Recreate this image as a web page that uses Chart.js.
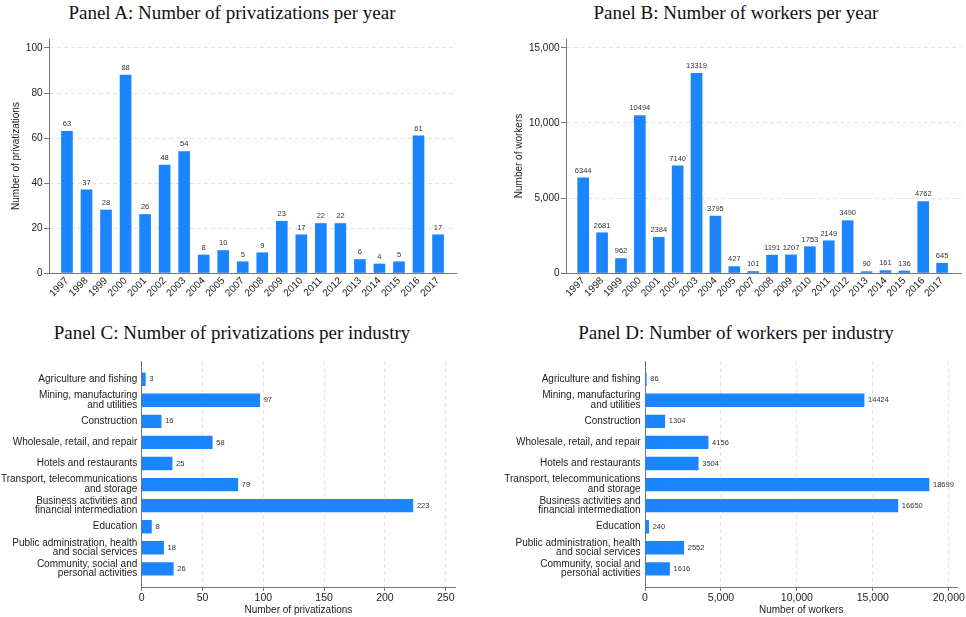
<!DOCTYPE html>
<html>
<head>
<meta charset="utf-8">
<script src="https://cdn.jsdelivr.net/npm/chart.js@4/dist/chart.umd.min.js"></script>
<style>
  html, body { margin: 0; padding: 0; background: #fff; }
  #wrap { position: relative; width: 966px; height: 617px; overflow: hidden; }
  canvas { position: absolute; }
  .ptitle {
    position: absolute; white-space: nowrap; transform: translateX(-50%);
    font-family: "Liberation Serif", "Times New Roman", serif; font-size: 19px;
    line-height: 19px; color: #111;
  }
</style>
</head>
<body>
<div id="wrap">
  <div class="ptitle" style="left:232px;top:3px">Panel A: Number of privatizations per year</div>
  <div class="ptitle" style="left:736px;top:3px">Panel B: Number of workers per year</div>
  <div class="ptitle" style="left:232px;top:323px">Panel C: Number of privatizations per industry</div>
  <div class="ptitle" style="left:736px;top:323px">Panel D: Number of workers per industry</div>
  <canvas id="cA" width="483" height="290" style="left:0;top:28px"></canvas>
  <canvas id="cB" width="483" height="290" style="left:483px;top:28px"></canvas>
  <canvas id="cC" width="483" height="270" style="left:0;top:347px"></canvas>
  <canvas id="cD" width="483" height="270" style="left:483px;top:347px"></canvas>
</div>
<script>
// privatization data, 1997-2017 (no sales in 2006)
const years = ['1997','1998','1999','2000','2001','2002','2003','2004','2005','2007',
               '2008','2009','2010','2011','2012','2013','2014','2015','2016','2017'];
const privPerYear = [63,37,28,88,26,48,54,8,10,5,9,23,17,22,22,6,4,5,61,17];
const workersPerYear = [6344,2681,962,10494,2384,7140,13319,3795,427,101,
                        1191,1207,1753,2149,3490,90,161,136,4762,645];

const industries = [
  'Agriculture and fishing',
  ['Mining, manufacturing', 'and utilities'],
  'Construction',
  'Wholesale, retail, and repair',
  'Hotels and restaurants',
  ['Transport, telecommunications', 'and storage'],
  ['Business activities and', 'financial intermediation'],
  'Education',
  ['Public administration, health', 'and social services'],
  ['Community, social and', 'personal activities']
];
const privPerIndustry = [3,97,16,58,25,79,223,8,18,26];
const workersPerIndustry = [86,14424,1304,4156,3504,18699,16650,240,2552,1616];

const privTicks = [0,20,40,60,80,100];
const workerTicks = [0,5000,10000,15000];
const privIndTicks = [0,50,100,150,200,250];
const workerIndTicks = [0,5000,10000,15000,20000];

const BLUE = '#1a85ff';
const AXIS = '#777';
const GRID = '#e2e2e2';
const SANS = '"Liberation Sans", Arial, sans-serif';

Chart.defaults.font.family = SANS;
Chart.defaults.color = '#222';
Chart.defaults.animation = false;

const fmt = v => Number(v).toLocaleString('en-US');

// value printed at the end of each bar
const valueLabels = {
  id: 'valueLabels',
  afterDatasetsDraw(chart) {
    const ctx = chart.ctx;
    const horiz = chart.options.indexAxis === 'y';
    const meta = chart.getDatasetMeta(0);
    const data = chart.data.datasets[0].data;
    ctx.save();
    ctx.font = '7.5px ' + SANS;
    ctx.fillStyle = '#333';
    meta.data.forEach((bar, i) => {
      const d = data[i];
      const v = horiz ? d.x : d.y;
      if (horiz) {
        ctx.textAlign = 'left';
        ctx.textBaseline = 'middle';
        ctx.fillText(String(v), bar.x + 4, bar.y);
      } else {
        ctx.textAlign = 'center';
        ctx.textBaseline = 'bottom';
        ctx.fillText(String(v), bar.x, bar.y - 3.5);
      }
    });
    ctx.restore();
  }
};

const dashedGrid = {
  color: c => (c.tick && c.tick.value === 0 ? 'rgba(0,0,0,0)' : GRID),
  tickColor: AXIS,
  tickLength: 5
};

function yearChart(id, values, yMax, yTicks, yTitle, f) {
  return new Chart(document.getElementById(id), {
    type: 'bar',
    data: {
      datasets: [{
        data: values.map((v, i) => ({ x: i, y: v })),
        backgroundColor: BLUE,
        barThickness: 11
      }]
    },
    options: {
      responsive: false,
      layout: { padding: { top: f.padTop, right: f.padRight, left: 0, bottom: 0 } },
      plugins: { legend: { display: false }, tooltip: { enabled: false } },
      scales: {
        x: {
          type: 'linear', offset: false,
          min: f.xMin, max: f.xMax,
          afterBuildTicks: s => { s.ticks = years.map((_, i) => ({ value: i })); },
          afterFit: s => { s.height = f.xHeight; },
          ticks: {
            autoSkip: false, minRotation: 45, maxRotation: 45, padding: 2,
            font: { size: 10 },
            callback: v => years[v]
          },
          grid: { display: false, drawTicks: false, offset: false },
          border: { color: AXIS, width: 1 }
        },
        y: {
          min: 0, max: yMax,
          afterBuildTicks: s => { s.ticks = yTicks.map(v => ({ value: v })); },
          afterFit: s => { s.width = f.yWidth; },
          ticks: { padding: 1.5, font: { size: 10 }, callback: v => fmt(v) },
          grid: dashedGrid,
          border: { color: AXIS, width: 1, dash: [4, 3] },
          title: { display: true, text: yTitle, font: { size: 10 }, padding: { top: f.titlePad, bottom: 0 } }
        }
      }
    },
    plugins: [valueLabels]
  });
}

function industryChart(id, values, xMax, xTicks, xTitle, f) {
  return new Chart(document.getElementById(id), {
    type: 'bar',
    data: {
      datasets: [{
        data: values.map((v, i) => ({ x: v, y: i })),
        backgroundColor: BLUE,
        barThickness: 12.7
      }]
    },
    options: {
      responsive: false,
      indexAxis: 'y',
      layout: { padding: { top: f.padTop, right: f.padRight, left: 0, bottom: 0 } },
      plugins: { legend: { display: false }, tooltip: { enabled: false } },
      scales: {
        y: {
          type: 'linear', offset: false, reverse: true,
          min: -0.86, max: 9.86,
          afterBuildTicks: s => { s.ticks = industries.map((_, i) => ({ value: i })); },
          afterFit: s => { s.width = f.yWidth; },
          ticks: {
            autoSkip: false, padding: 4.4,
            font: { size: 10, lineHeight: 0.97 },
            callback: v => industries[v]
          },
          grid: { display: false, drawTicks: false, offset: false },
          border: { color: AXIS, width: 1 }
        },
        x: {
          min: 0, max: xMax,
          afterBuildTicks: s => { s.ticks = xTicks.map(v => ({ value: v })); },
          afterFit: s => { s.height = f.xHeight; },
          ticks: { padding: 1, font: { size: 10.5 }, callback: v => fmt(v) },
          grid: { ...dashedGrid, tickLength: 4 },
          border: { color: AXIS, width: 1, dash: [4, 3] },
          title: { display: true, text: xTitle, font: { size: 10 }, padding: { top: 0, bottom: 0.5 } }
        }
      }
    },
    plugins: [valueLabels]
  });
}

yearChart('cA', privPerYear, 104, privTicks, 'Number of privatizations',
  { padTop: 11, padRight: 27, yWidth: 49, xHeight: 45, xMin: -0.92, xMax: 19.92, titlePad: 10 });
yearChart('cB', workersPerYear, 15600, workerTicks, 'Number of workers',
  { padTop: 11, padRight: 5, yWidth: 83, xHeight: 45, xMin: -0.91, xMax: 20.0, titlePad: 30 });
industryChart('cC', privPerIndustry, 257.6, privIndTicks, 'Number of privatizations',
  { padTop: 12, padRight: 28, yWidth: 141.7, xHeight: 30 });
industryChart('cD', workersPerIndustry, 20570, workerIndTicks, 'Number of workers',
  { padTop: 12, padRight: 7, yWidth: 162, xHeight: 30 });
</script>
</body>
</html>
